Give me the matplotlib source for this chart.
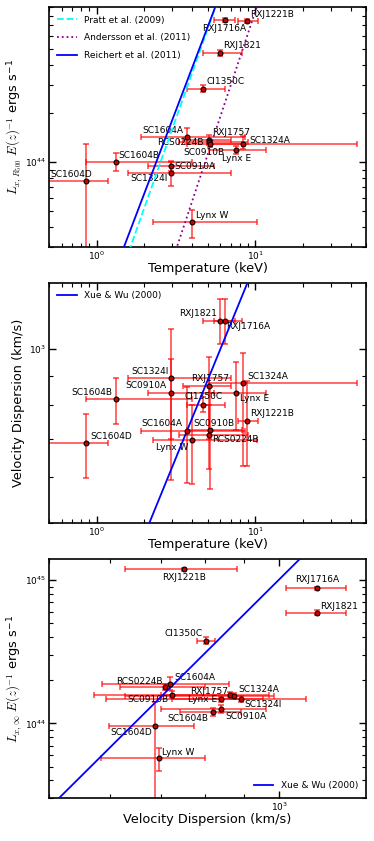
import numpy as np
import matplotlib
matplotlib.use('Agg')
import matplotlib.pyplot as plt
from matplotlib.ticker import NullFormatter

plt.rcParams['mathtext.fontset'] = 'cm'

# cluster data
names = ['RXJ1221B', 'RXJ1716A', 'RXJ1821', 'Cl1350C', 'SC1604A', 'RXJ1757', 'RCS0224B',
         'SC0910B', 'SC1324A', 'Lynx E', 'SC1604B', 'SC0910A', 'SC1324I', 'SC1604D', 'Lynx W']

# temperature (keV) and its lower / upper bounds
temp = [8.9, 6.4, 6.0, 4.7, 3.7, 5.1, 5.1, 5.2, 8.4, 7.6, 1.32, 2.93, 2.93, 0.855, 4.0]
temp_lo = [7.8, 5.5, 4.7, 3.7, 1.9, 3.5, 3.3, 3.7, 5.1, 5.1, 0.86, 2.1, 1.57, 0.45, 2.27]
temp_hi = [10.4, 7.5, 8.2, 6.4, 8.6, 7.0, 9.0, 8.2, 44.0, 11.6, 4.0, 5.5, 7.0, 1.17, 10.2]

# velocity dispersion (km/s)
sigma = [751, 1120, 1120, 802, 721, 862, 710, 724, 873, 840, 819, 840, 891, 688, 696]
sigma_lo = [629, 1020, 1020, 780, 586, 700, 620, 572, 629, 724, 743, 700, 594, 599, 585]
sigma_hi = [880, 1222, 1222, 825, 860, 971, 800, 860, 984, 952, 892, 960, 1083, 774, 800]

# L_x within R500 (1e44 ergs/s)
lx500 = [7.42, 7.57, 4.73, 2.84, 1.43, 1.38, 1.33, 1.30, 1.29, 1.19, 1.00, 0.95, 0.864, 0.763, 0.426]
lx500_lo = [7.2, 7.35, 4.5, 2.7, 1.29, 1.30, 1.28, 1.25, 1.20, 1.12, 0.88, 0.88, 0.71, 0.25, 0.34]
lx500_hi = [7.65, 7.8, 4.95, 3.0, 1.62, 1.47, 1.38, 1.35, 1.45, 1.26, 1.14, 1.02, 1.0, 1.30, 0.51]

# bolometric L_x (1e44 ergs/s)
lxinf = [11.9, 8.76, 5.93, 3.79, 1.87, 1.57, 1.79, 1.59, 1.56, 1.47, 1.20, 1.26, 1.49, 0.958, 0.569]
lxinf_lo = [11.6, 8.5, 5.7, 3.6, 1.70, 1.50, 1.70, 1.50, 1.48, 1.40, 1.12, 1.18, 1.42, 0.2, 0.466]
lxinf_hi = [12.2, 9.0, 6.2, 4.0, 2.10, 1.65, 1.88, 1.68, 1.64, 1.54, 1.28, 1.34, 1.56, 1.4, 0.678]

# scaling relations: value at pivot, slope
pratt = (6.6e44, 2.76)       # L at T = 5 keV
andersson = (1.11e44, 2.94)
reichert = (6.8e44, 2.57)
xuewu_sigT = (883.0, 0.671)  # sigma at T = 5 keV
xuewu_Lsig = (1.01e45, 5.3)  # L at sigma = 1000 km/s

# label placement: dx, dy (pixels), alignment
lab_top = {'RXJ1221B': (3, 7, 'left'), 'RXJ1716A': (0, -9, 'center'), 'RXJ1821': (3, 7, 'left'),
           'Cl1350C': (3, 7, 'left'), 'SC1604A': (-3, 7, 'right'), 'RXJ1757': (3, 7, 'left'),
           'RCS0224B': (-5, 0, 'right'), 'SC0910B': (-6, -9, 'center'), 'SC1324A': (6, 4, 'left'),
           'Lynx E': (0, -9, 'center'), 'SC1604B': (3, 7, 'left'), 'SC0910A': (4, -1, 'left'),
           'SC1324I': (-3, -6, 'right'), 'SC1604D': (-15, 7, 'center'), 'Lynx W': (4, 7, 'left')}
lab_mid = {'RXJ1821': (-3, 7, 'right'), 'RXJ1716A': (2, -6, 'left'), 'SC1324I': (-2, 7, 'right'),
           'SC0910A': (-4, 7, 'right'), 'RXJ1757': (1, 8, 'center'), 'SC1324A': (4, 7, 'left'),
           'SC1604B': (-3, 7, 'right'), 'Cl1350C': (0, 8, 'center'), 'Lynx E': (4, -6, 'left'),
           'RXJ1221B': (3, 8, 'left'), 'SC1604A': (-4, 8, 'right'), 'SC0910B': (4, 7, 'center'),
           'RCS0224B': (3, -4, 'left'), 'Lynx W': (-4, -7, 'right'), 'SC1604D': (4, 7, 'left')}
lab_bot = {'RXJ1221B': (0, -8, 'center'), 'RXJ1716A': (1, 9, 'center'), 'RXJ1821': (3, 6, 'left'),
           'Cl1350C': (-3, 7, 'right'), 'SC1604A': (4, 7, 'left'), 'RCS0224B': (-3, 6, 'right'),
           'SC0910B': (-3, -5, 'right'), 'RXJ1757': (-2, 4, 'right'), 'SC1324A': (4, 6, 'left'),
           'Lynx E': (-4, 0, 'right'), 'SC1324I': (4, -6, 'left'), 'SC0910A': (4, -7, 'left'),
           'SC1604B': (-4, -6, 'right'), 'SC1604D': (-3, -6, 'right'), 'Lynx W': (3, 6, 'left')}


def asym(val, lo, hi):
    val = np.array(val, dtype=float)
    return val, np.array([val - np.array(lo), np.array(hi) - val])


def draw_points(ax, x, xerr, y, yerr, labels):
    ax.errorbar(x, y, xerr=xerr, yerr=yerr, fmt='o', color='red', ecolor='red',
                elinewidth=1.1, capsize=2, capthick=1.1, alpha=0.75, ms=0)
    ax.plot(x, y, 'o', ms=3.5, mfc='#cc0000', mec='k', mew=0.8, zorder=4)
    for i, n in enumerate(names):
        dx, dy, ha = labels[n]
        ax.annotate(n, (x[i], y[i]), xytext=(dx, dy), textcoords='offset pixels',
                    ha=ha, va='center', fontsize=6.5)


def style(ax):
    ax.set_xscale('log')
    ax.set_yscale('log')
    ax.tick_params(which='both', direction='in', top=True, right=True, labelsize=6.5, pad=2)
    ax.tick_params(which='major', length=5, width=1)
    ax.tick_params(which='minor', length=3, width=0.8)
    ax.xaxis.set_minor_formatter(NullFormatter())
    ax.yaxis.set_minor_formatter(NullFormatter())
    ax.yaxis.set_label_coords(-0.075, 0.5)
    for s in ax.spines.values():
        s.set_linewidth(1.2)


T, Terr = asym(temp, temp_lo, temp_hi)
S, Serr = asym(sigma, sigma_lo, sigma_hi)
L5, L5err = asym(lx500, lx500_lo, lx500_hi)
Li, Lierr = asym(lxinf, lxinf_lo, lxinf_hi)
L5, L5err = L5 * 1e44, L5err * 1e44
Li, Lierr = Li * 1e44, Lierr * 1e44

fig = plt.figure(figsize=(3.74, 8.41), dpi=100)

# Plot 1: L_x(R500) vs temperature
ax1 = fig.add_axes([0.131, 0.7063, 0.848, 0.2848])
style(ax1)
draw_points(ax1, T, Terr, L5, L5err, lab_top)
tt = np.logspace(np.log10(0.5), np.log10(50), 200)
ax1.plot(tt, pratt[0] * (tt / 5.0) ** pratt[1], '--', color='cyan', lw=1.3, label='Pratt et al. (2009)', zorder=3)
ax1.plot(tt, andersson[0] * (tt / 5.0) ** andersson[1], ':', color='darkmagenta', lw=1.3, label='Andersson et al. (2011)', zorder=3)
ax1.plot(tt, reichert[0] * (tt / 5.0) ** reichert[1], '-', color='blue', lw=1.3, label='Reichert et al. (2011)', zorder=3)
ax1.set_xlim(0.5, 50)
ax1.set_ylim(3e43, 9e44)
ax1.set_xlabel('Temperature (keV)', fontsize=9.3, labelpad=0)
ax1.set_ylabel(r'$L_{x,R_{500}}\ E(z)^{-1}$ ergs s$^{\mathdefault{-1}}$', fontsize=9.3)
ax1.legend(loc='upper left', frameon=False, fontsize=6.5, handlelength=2.2, labelspacing=0.95)

# Plot 2: velocity dispersion vs temperature
ax2 = fig.add_axes([0.131, 0.3778, 0.848, 0.2854])
style(ax2)
draw_points(ax2, T, Terr, S, Serr, lab_mid)
ax2.plot(tt, xuewu_sigT[0] * (tt / 5.0) ** xuewu_sigT[1], '-', color='blue', lw=1.3, label='Xue & Wu (2000)', zorder=3)
ax2.set_xlim(0.5, 50)
ax2.set_ylim(500, 1300)
ax2.set_xlabel('Temperature (keV)', fontsize=9.3, labelpad=0)
ax2.set_ylabel('Velocity Dispersion (km/s)', fontsize=9.3)
ax2.legend(loc='upper left', frameon=False, fontsize=6.5, handlelength=2.2)

# Plot 3: L_x(inf) vs velocity dispersion
ax3 = fig.add_axes([0.131, 0.0508, 0.848, 0.2842])
style(ax3)
draw_points(ax3, S, Serr, Li, Lierr, lab_bot)
ss = np.logspace(np.log10(500), np.log10(1300), 200)
ax3.plot(ss, xuewu_Lsig[0] * (ss / 1000.0) ** xuewu_Lsig[1], '-', color='blue', lw=1.3, label='Xue & Wu (2000)', zorder=3)
ax3.set_xlim(500, 1300)
ax3.set_ylim(3e43, 1.4e45)
ax3.set_xlabel('Velocity Dispersion (km/s)', fontsize=9.3, labelpad=0)
ax3.set_ylabel(r'$L_{x,\infty}\ E(z)^{-1}$ ergs s$^{\mathdefault{-1}}$', fontsize=9.3)
ax3.legend(loc='lower right', frameon=False, fontsize=6.5, handlelength=2.2)

fig.savefig('out.png', dpi=100)
